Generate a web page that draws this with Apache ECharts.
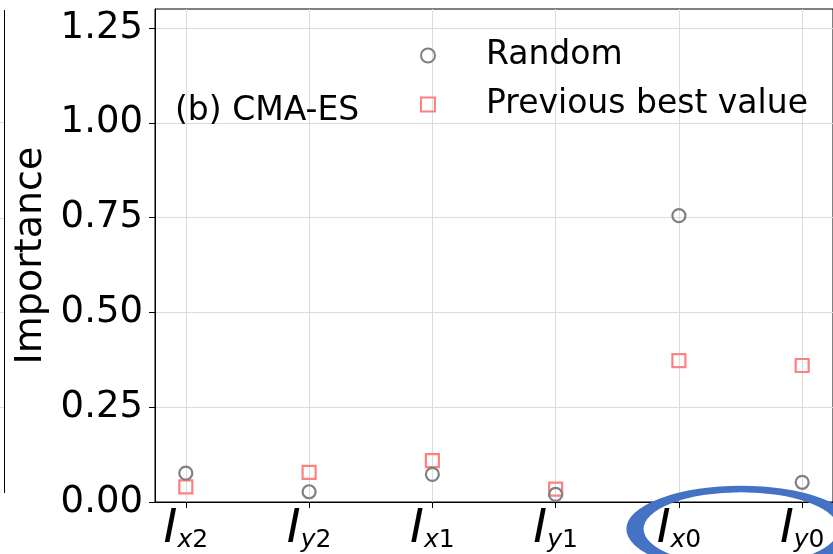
<!DOCTYPE html>
<html>
<head>
<meta charset="utf-8">
<script src="https://cdn.jsdelivr.net/npm/echarts@6/dist/echarts.min.js"></script>
<style>html,body{margin:0;padding:0;background:#fff;}#c{width:833px;height:554px;}</style>
</head>
<body>
<div id="c"></div>
<script>
// ---- data ----
const categories = ['Ix2', 'Iy2', 'Ix1', 'Iy1', 'Ix0', 'Iy0'];
const subLetters = ['x', 'y', 'x', 'y', 'x', 'y'];
const subDigits = ['2', '2', '1', '1', '0', '0'];
const randomValues = [0.076, 0.027, 0.073, 0.020, 0.755, 0.052];
const prevBestValues = [0.040, 0.078, 0.109, 0.034, 0.373, 0.360];
const yTicks = [0, 0.25, 0.5, 0.75, 1.0, 1.25];
const xTicks = [0, 1, 2, 3, 4, 5];
const seriesNames = ['Random', 'Previous best value'];
const panelLabel = '(b) CMA-ES';

const FONT = 'DejaVu Sans';
const chart = echarts.init(document.getElementById('c'), null, {renderer: 'canvas'});

const option = {
  backgroundColor: '#ffffff',
  animation: false,
  textStyle: {fontFamily: FONT},
  grid: {left: 155, top: 9, width: 681, height: 493, show: true, borderColor: '#000', borderWidth: 1, backgroundColor: 'transparent'},
  legend: {
    data: seriesNames,
    orient: 'vertical',
    left: 415, top: 34,
    itemWidth: 14, itemHeight: 14, itemGap: 16,
    formatter: n => '{g|}' + n,
    textStyle: {fontFamily: FONT, fontSize: 33, color: '#000', lineHeight: 30,
      rich: {g: {width: 46}}}
  },
  xAxis: {
    type: 'value', min: -0.25, max: 5.25,
    axisLine: {show: true, onZero: false, lineStyle: {color: '#000', width: 1}},
    axisTick: {show: true, length: 6, customValues: xTicks, lineStyle: {color: '#000'}},
    axisLabel: {
      customValues: xTicks, margin: 4, color: '#000',
      formatter: v => {
        const k = Math.round(v);
        return '{i|I}{s|' + subLetters[k] + '}{d|' + subDigits[k] + '}';
      },
      rich: {
        i: {fontFamily: FONT, fontStyle: 'italic', fontSize: 47, color: '#000', verticalAlign: 'bottom'},
        s: {fontFamily: FONT, fontStyle: 'italic', fontSize: 25, color: '#000', verticalAlign: 'bottom'},
        d: {fontFamily: FONT, fontSize: 25, color: '#000', verticalAlign: 'bottom'}
      }
    },
    splitLine: {show: true, lineStyle: {color: '#dcdcdc', width: 1}}
  },
  yAxis: {
    type: 'value', min: 0, max: 1.3,
    name: 'Importance', nameLocation: 'middle', nameGap: 83,
    nameTextStyle: {fontFamily: FONT, fontSize: 38, color: '#000'},
    axisLine: {show: true, onZero: false, lineStyle: {color: '#000', width: 1}},
    axisTick: {show: true, length: 6, customValues: yTicks, lineStyle: {color: '#000'}},
    axisLabel: {customValues: yTicks, margin: 12, fontFamily: FONT, fontSize: 37, color: '#000',
      formatter: v => v.toFixed(2)},
    splitLine: {show: true, lineStyle: {color: '#dcdcdc', width: 1}}
  },
  series: [
    {
      name: seriesNames[0], type: 'scatter', z: 4,
      symbol: 'circle', symbolSize: 13,
      itemStyle: {color: 'rgba(0,0,0,0)', borderColor: '#808080', borderWidth: 2.2, opacity: 1},
      data: randomValues.map((v, i) => [xTicks[i], v])
    },
    {
      name: seriesNames[1], type: 'scatter', z: 3,
      symbol: 'rect', symbolSize: 13,
      itemStyle: {color: 'rgba(0,0,0,0)', borderColor: '#ff8080', borderWidth: 2.2, opacity: 1},
      data: prevBestValues.map((v, i) => [xTicks[i], v])
    }
  ],
  graphic: [
    {type: 'text', left: 175, top: 95, z: 10,
      style: {text: panelLabel, font: '33px "DejaVu Sans"', fill: '#000'}},
    // neighbouring panel spine on the far left
    {type: 'line', z: 10, shape: {x1: 4.5, y1: 10, x2: 4.5, y2: 493}, style: {stroke: '#000', lineWidth: 1}},
    {type: 'line', z: 9, shape: {x1: 0, y1: 122.5, x2: 4, y2: 122.5}, style: {stroke: '#dcdcdc', lineWidth: 1}},
    {type: 'line', z: 9, shape: {x1: 0, y1: 218.5, x2: 4, y2: 218.5}, style: {stroke: '#dcdcdc', lineWidth: 1}},
    {type: 'line', z: 9, shape: {x1: 0, y1: 312.5, x2: 4, y2: 312.5}, style: {stroke: '#dcdcdc', lineWidth: 1}},
    {type: 'line', z: 9, shape: {x1: 0, y1: 407.5, x2: 4, y2: 407.5}, style: {stroke: '#dcdcdc', lineWidth: 1}},
    // blue highlight ellipse
    {type: 'circle', z: 20, x: 741, y: 529, scaleX: 106 / 40, scaleY: 1,
      shape: {cx: 0, cy: 0, r: 40},
      style: {fill: 'none', stroke: '#4472C4', lineWidth: 6.5, strokeNoScale: true}}
  ]
};
chart.setOption(option);
</script>
</body>
</html>
